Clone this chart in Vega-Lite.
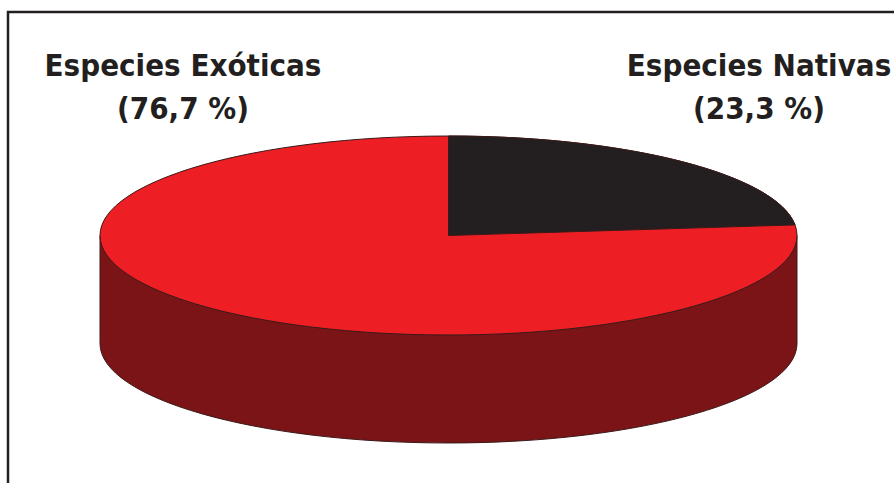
{
  "$schema": "https://vega.github.io/schema/vega-lite/v6.json",
  "width": 894,
  "height": 483,
  "autosize": "none",
  "padding": 0,
  "background": "white",
  "config": {"view": {"stroke": null}},
  "data": {
    "values": [
      {"category": "Especies Exóticas", "pct": 76.7},
      {"category": "Especies Nativas", "pct": 23.3}
    ]
  },
  "layer": [
    {
      "data": {"values": [{}]},
      "mark": {"type": "rect", "fill": null, "stroke": "#231f20", "strokeWidth": 2.5},
      "encoding": {
        "x": {"value": 8},
        "y": {"value": 12},
        "x2": {"value": 1000},
        "y2": {"value": 1000}
      }
    },
    {
      "data": {"values": [{}]},
      "mark": {
        "type": "point",
        "filled": true,
        "opacity": 1,
        "shape": "M-1,0 L-1,0.3099 A1,0.2855 0 0,0 1,0.3099 L1,0 Z",
        "size": 485809,
        "fill": "#7b1416",
        "stroke": "#3a1a1a",
        "strokeWidth": 1
      },
      "encoding": {"x": {"value": 448.5}, "y": {"value": 235.5}}
    },
    {
      "mark": {
        "type": "point",
        "filled": true,
        "opacity": 1,
        "size": 485809,
        "stroke": "#3a1a1a",
        "strokeWidth": 1
      },
      "encoding": {
        "x": {"value": 448.5},
        "y": {"value": 235.5},
        "shape": {
          "field": "category",
          "type": "nominal",
          "scale": {
            "domain": ["Especies Exóticas", "Especies Nativas"],
            "range": [
              "M-1,0 A1,0.2855 0 1,1 1,0 A1,0.2855 0 1,1 -1,0 Z",
              "M0,0 L0,-0.2855 A1,0.2855 0 0,1 0.9943,-0.0304 Z"
            ]
          },
          "legend": null
        },
        "color": {
          "field": "category",
          "type": "nominal",
          "scale": {
            "domain": ["Especies Exóticas", "Especies Nativas"],
            "range": ["#ed1f24", "#231f20"]
          },
          "legend": null
        }
      }
    },
    {
      "transform": [
        {"calculate": "[datum.category, '(' + replace(format(datum.pct, '.1f'), '.', ',') + ' %)']", "as": "label"}
      ],
      "mark": {
        "type": "text",
        "font": "DejaVu Sans Condensed",
        "fontWeight": "bold",
        "fontSize": 31,
        "align": "center",
        "baseline": "alphabetic",
        "lineHeight": 43,
        "color": "#231f20"
      },
      "encoding": {
        "x": {
          "field": "category",
          "type": "nominal",
          "scale": {
            "type": "point",
            "domain": ["Especies Exóticas", "Especies Nativas"],
            "range": [183, 759],
            "padding": 0
          },
          "axis": null
        },
        "y": {"value": 76},
        "text": {"field": "label"}
      }
    }
  ]
}
